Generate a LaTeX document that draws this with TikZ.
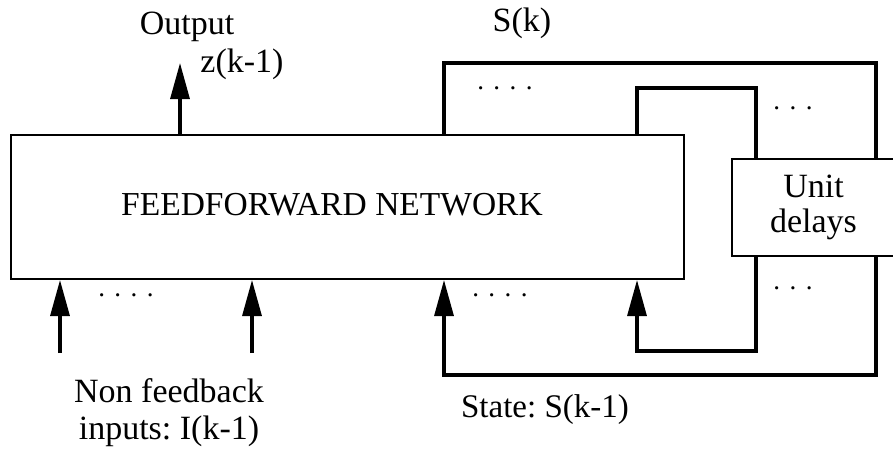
\documentclass[tikz,border=0pt]{standalone}
\usepackage{fontspec}
\setmainfont{Liberation Serif}
\usetikzlibrary{arrows.meta}

\newcommand{\dotgap}{\hspace{9.5pt}}

\tikzset{
  blockbox/.style={draw, line width=2pt, inner sep=0pt, fill=white},
  wire/.style={line width=3.2pt, line join=miter},
  feed/.style={wire, -{Triangle[length=36pt, width=19pt]}},
  lbl/.style={inner sep=0pt, font=\fontsize{34}{37}\selectfont\frenchspacing},
  dotrow/.style={inner sep=0pt, anchor=base, font=\fontsize{27}{34}\selectfont},
}

\begin{document}
\begin{tikzpicture}[x=1pt, y=-1pt]
  \useasboundingbox (0,0) rectangle (893,452);

  % blocks
  \node[blockbox, minimum width=673pt, minimum height=144pt] (ff) at (347.5,207) {};
  \node[lbl, anchor=base, font=\fontsize{33.5}{38}\selectfont] (fftext) at (332,215) {FEEDFORWARD NETWORK};
  \node[blockbox, minimum width=163pt, minimum height=97pt, align=center,
        lbl, font=\fontsize{34}{35}\selectfont, draw, line width=2pt] (dl) at (813.5,207.5) {\raisebox{-4pt}{Unit}\\\raisebox{-4pt}{delays}};

  % loop corners
  \coordinate (otl) at (444,63);
  \coordinate (otr) at (876,63);
  \coordinate (obl) at (444,375);
  \coordinate (itl) at (637,88);
  \coordinate (itr) at (756,88);
  \coordinate (ibl) at (637,351);

  % state feedback loops
  \draw[wire] (ff.north -| otl) -- (otl) -- (otr) -- (dl.north -| otr);
  \draw[feed] (dl.south -| otr) |- (obl) -- (ff.south -| obl);
  \draw[wire] (ff.north -| itl) -- (itl) -- (itr) -- (dl.north -| itr);
  \draw[feed] (dl.south -| itr) |- (ibl) -- (ff.south -| ibl);

  % output
  \coordinate (outtip) at (180,63);
  \draw[feed] (ff.north -| outtip) -- (outtip);

  % non feedback inputs
  \coordinate (in1) at (60,353);
  \coordinate (in2) at (252,353);
  \draw[feed] (in1) -- (ff.south -| in1);
  \draw[feed] (in2) -- (ff.south -| in2);

  % labels
  \node[lbl, anchor=base] (outlbl) at (187,35) {Output};
  \node[lbl, anchor=base] (zlbl) at (242,72) {z(k-1)};
  \node[lbl, anchor=base] (sklbl) at (522,32) {S(k)};
  \node[lbl, align=center] (inlbl) at (169,412.5) {Non feedback\\inputs: I(k-1)};
  \node[lbl, anchor=base, font=\fontsize{33}{37}\selectfont\frenchspacing] (stlbl) at (545,417) {State: S(k-1)};

  % ellipsis dots
  \node[dotrow] (d1) at (505,89) {.\dotgap.\dotgap.\dotgap.};
  \node[dotrow] (d2) at (793,109) {.\dotgap.\dotgap.};
  \node[dotrow] (d3) at (793,289) {.\dotgap.\dotgap.};
  \node[dotrow] (d4) at (500,296) {.\dotgap.\dotgap.\dotgap.};
  \node[dotrow] (d5) at (126,296) {.\dotgap.\dotgap.\dotgap.};
\end{tikzpicture}
\end{document}
